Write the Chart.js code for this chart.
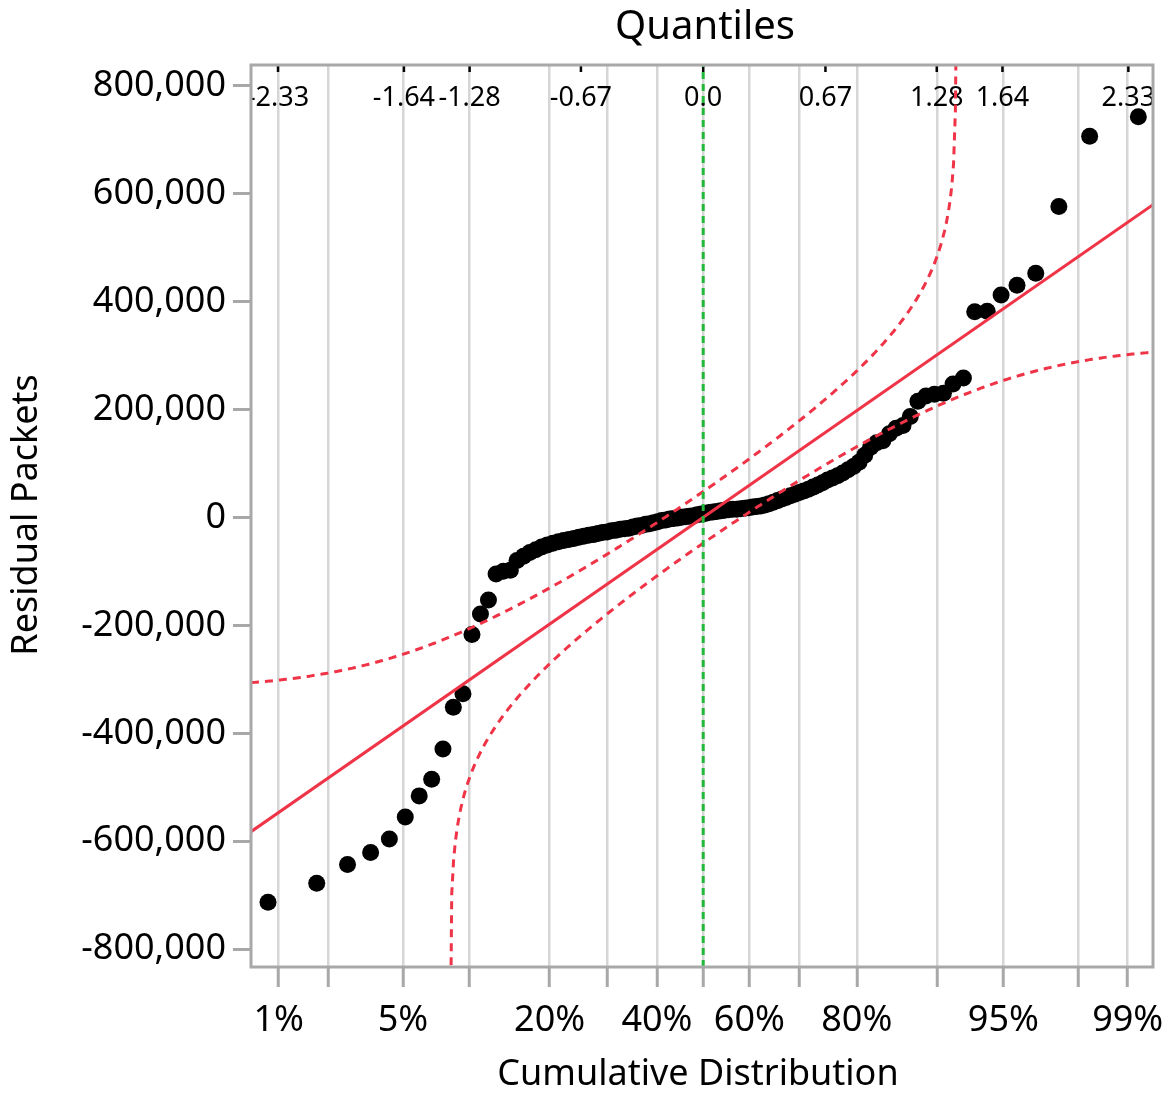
<!DOCTYPE html>
<html>
<head>
<meta charset="utf-8">
<script src="https://cdn.jsdelivr.net/npm/chart.js@4"></script>
<style>
body { margin: 0; background: #fff; }
</style>
</head>
<body>
<canvas id="qqChart" width="1171" height="1097"></canvas>
<script>
// residuals in rank order
const residuals = [
  -713000, -678000, -643000, -621000, -596000, -555000, -516000, -485000, -429000, -352000,
  -327000, -217000, -179000, -153000, -105000, -100000, -98000, -80000, -72000, -65000,
  -60000, -55000, -51000, -48000, -45000, -43000, -41000, -39000, -37000, -35000,
  -33000, -32000, -30000, -28000, -27000, -25000, -24000, -22000, -21000, -20000,
  -18000, -16000, -15000, -13000, -12000, -10000, -8000, -6000, -5000, -3000,
  -2000, -1000, 0, 1000, 2000, 3000, 5000, 6000, 7000, 9000,
  10000, 11000, 12000, 13000, 14000, 15000, 15000, 16000, 17000, 18000,
  19000, 20000, 21000, 23000, 25000, 28000, 31000, 34000, 37000, 40000,
  43000, 46000, 49000, 52000, 56000, 60000, 64000, 69000, 73000, 77000,
  82000, 88000, 94000, 102000, 115000, 130000, 138000, 142000, 155000, 165000,
  170000, 187000, 215000, 225000, 228000, 230000, 247000, 258000, 381000, 382000,
  412000, 430000, 452000, 576000, 706000, 742000
];

// bottom axis: cumulative probabilities and their labels
const gridProbs = [0.01, 0.02, 0.05, 0.10, 0.20, 0.30, 0.40, 0.50, 0.60, 0.70, 0.80, 0.90, 0.95, 0.98, 0.99];
const gridLabels = ['1%', '', '5%', '', '20%', '', '40%', '', '60%', '', '80%', '', '95%', '', '99%'];

// top axis: normal quantiles
const quantileTicks = [-2.33, -1.64, -1.28, -0.67, 0, 0.67, 1.28, 1.64, 2.33];
const quantileLabels = ['-2.33', '-1.64', '-1.28', '-0.67', '0.0', '0.67', '1.28', '1.64', '2.33'];

const yTicks = [-800000, -600000, -400000, -200000, 0, 200000, 400000, 600000, 800000];

// normal fit line and Lilliefors confidence band
const fitMean = 0;
const fitSd = 235000;
const bandSd = 228000;
const bandD = 0.083;

const xMin = -2.478, xMax = 2.465;
const yMin = -833000, yMax = 838000;

const FONT = '"Noto Sans", "Open Sans", sans-serif';

function qnorm(p) {
  const a = [-3.969683028665376e+01, 2.209460984245205e+02, -2.759285104469687e+02, 1.383577518672690e+02, -3.066479806614716e+01, 2.506628277459239e+00];
  const b = [-5.447609879822406e+01, 1.615858368580409e+02, -1.556989798598866e+02, 6.680131188771972e+01, -1.328068155288572e+01];
  const c = [-7.784894002430293e-03, -3.223964580411365e-01, -2.400758277161838e+00, -2.549732539343734e+00, 4.374664141464968e+00, 2.938163982698783e+00];
  const d = [7.784695709041462e-03, 3.224671290700398e-01, 2.445134137142996e+00, 3.754408661907416e+00];
  const pl = 0.02425;
  let q, r;
  if (p < pl) {
    q = Math.sqrt(-2 * Math.log(p));
    return (((((c[0]*q+c[1])*q+c[2])*q+c[3])*q+c[4])*q+c[5]) / ((((d[0]*q+d[1])*q+d[2])*q+d[3])*q+1);
  }
  if (p > 1 - pl) {
    q = Math.sqrt(-2 * Math.log(1 - p));
    return -(((((c[0]*q+c[1])*q+c[2])*q+c[3])*q+c[4])*q+c[5]) / ((((d[0]*q+d[1])*q+d[2])*q+d[3])*q+1);
  }
  q = p - 0.5; r = q * q;
  return (((((a[0]*r+a[1])*r+a[2])*r+a[3])*r+a[4])*r+a[5])*q / (((((b[0]*r+b[1])*r+b[2])*r+b[3])*r+b[4])*r+1);
}

function pnorm(z) {
  const t = 1 / (1 + 0.3275911 * Math.abs(z) / Math.SQRT2);
  const e = 1 - (((((1.061405429*t - 1.453152027)*t) + 1.421413741)*t - 0.284496736)*t + 0.254829592)*t*Math.exp(-z*z/2);
  return z >= 0 ? 0.5 * (1 + e) : 0.5 * (1 - e);
}

// plotting positions rank/(n+1)
const n = residuals.length;
const points = residuals.map((v, i) => ({ x: qnorm((i + 1) / (n + 1)), y: v }));

function band(sign) {
  const pts = [];
  for (let q = xMin; q <= xMax + 1e-9; q += 0.01) {
    let p = pnorm(q) + sign * bandD;
    p = Math.min(Math.max(p, 1e-6), 1 - 1e-6);
    pts.push({ x: q, y: fitMean + bandSd * qnorm(p) });
  }
  return pts;
}

const RED = '#ef3448';

const overlay = {
  id: 'overlay',
  beforeDatasetsDraw(chart) {
    const { ctx, chartArea: a, scales: { x } } = chart;
    ctx.save();
    ctx.beginPath();
    ctx.rect(a.left, a.top, a.right - a.left, a.bottom - a.top);
    ctx.clip();
    ctx.strokeStyle = '#000';
    ctx.fillStyle = '#000';
    ctx.lineWidth = 2.5;
    ctx.font = '27px ' + FONT;
    ctx.textAlign = 'center';
    ctx.textBaseline = 'middle';
    quantileTicks.forEach((q, i) => {
      const px = x.getPixelForValue(q);
      ctx.beginPath();
      ctx.moveTo(px, a.top);
      ctx.lineTo(px, a.top + 7);
      ctx.stroke();
      ctx.fillText(quantileLabels[i], px, a.top + 33);
    });
    ctx.restore();
  },
  afterDraw(chart) {
    const { ctx, chartArea: a } = chart;
    ctx.save();
    ctx.strokeStyle = '#a8a8a8';
    ctx.lineWidth = 3;
    ctx.strokeRect(a.left, a.top, a.right - a.left, a.bottom - a.top);
    ctx.fillStyle = '#000';
    ctx.textAlign = 'center';
    ctx.textBaseline = 'middle';
    ctx.font = '40px ' + FONT;
    ctx.fillText('Quantiles', 705, 28);
    ctx.font = '36px ' + FONT;
    ctx.fillText('Cumulative Distribution', 698, 1075);
    ctx.translate(27, 515);
    ctx.rotate(-Math.PI / 2);
    ctx.fillText('Residual Packets', 0, 0);
    ctx.restore();
  }
};

new Chart(document.getElementById('qqChart'), {
  type: 'scatter',
  data: {
    datasets: [
      {
        data: [{ x: 0, y: yMin }, { x: 0, y: yMax }],
        showLine: true, pointRadius: 0, borderColor: '#22b83a', borderWidth: 3,
        borderDash: [7, 5], order: 0
      },
      {
        data: [{ x: xMin, y: fitMean + fitSd * xMin }, { x: xMax, y: fitMean + fitSd * xMax }],
        showLine: true, pointRadius: 0, borderColor: RED, borderWidth: 3, order: 1
      },
      {
        data: band(1),
        showLine: true, pointRadius: 0, borderColor: RED, borderWidth: 3,
        borderDash: [8, 6], order: 2
      },
      {
        data: band(-1),
        showLine: true, pointRadius: 0, borderColor: RED, borderWidth: 3,
        borderDash: [8, 6], order: 3
      },
      {
        data: points,
        pointRadius: 8.5, pointBackgroundColor: '#000', pointBorderWidth: 0,
        borderColor: '#000', order: 4
      }
    ]
  },
  options: {
    responsive: false,
    animation: false,
    layout: { padding: { left: 0, right: 18, top: 65, bottom: 0 } },
    plugins: {
      legend: { display: false },
      tooltip: { enabled: false }
    },
    scales: {
      x: {
        type: 'linear',
        min: xMin,
        max: xMax,
        afterBuildTicks: s => { s.ticks = gridProbs.map(p => ({ value: qnorm(p) })); },
        afterFit: s => { s.height = 130; s.paddingLeft = 0; s.paddingRight = 0; },
        border: { display: false },
        grid: { color: '#d6d6d6', lineWidth: 2.5, tickColor: '#a8a8a8', tickWidth: 3, tickLength: 20 },
        ticks: {
          autoSkip: false, maxRotation: 0, padding: 12, color: '#000',
          font: { family: FONT, size: 36 },
          callback: (v, i) => gridLabels[i]
        }
      },
      y: {
        type: 'linear',
        min: yMin,
        max: yMax,
        afterBuildTicks: s => { s.ticks = yTicks.map(v => ({ value: v })); },
        afterFit: s => { s.width = 251; },
        border: { display: false },
        grid: { drawOnChartArea: false, tickColor: '#a8a8a8', tickWidth: 3, tickLength: 18 },
        ticks: {
          padding: 7, color: '#000',
          font: { family: FONT, size: 36 },
          callback: v => v.toLocaleString('en-US')
        }
      }
    }
  },
  plugins: [overlay]
});
</script>
</body>
</html>
